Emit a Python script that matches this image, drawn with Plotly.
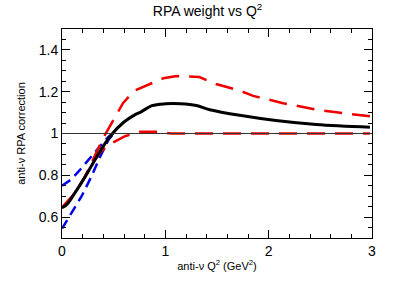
import plotly.graph_objects as go

# Black (central RPA weight)
q2_central = [0.0, 0.05, 0.12, 0.22, 0.30, 0.38, 0.48, 0.60, 0.70, 0.77, 0.87, 1.0, 1.15, 1.30, 1.43, 1.72, 2.07, 2.46, 2.98]
w_central = [0.645, 0.662, 0.712, 0.79, 0.858, 0.924, 0.995, 1.055, 1.088, 1.105, 1.133, 1.142, 1.142, 1.134, 1.114, 1.087, 1.062, 1.043, 1.03]

# Red dashed upper
q2_red_up = [0.0, 0.12, 0.22, 0.30, 0.40, 0.50, 0.59, 0.70, 0.85, 0.98, 1.11, 1.33, 1.49, 1.72, 1.85, 2.14, 2.46, 2.98]
w_red_up = [0.645, 0.712, 0.79, 0.875, 0.98, 1.066, 1.145, 1.205, 1.237, 1.264, 1.275, 1.27, 1.237, 1.205, 1.18, 1.145, 1.114, 1.082]

# Red dashed lower
q2_red_lo = [0.0, 0.12, 0.22, 0.30, 0.38, 0.46, 0.61, 0.75, 0.93, 1.06, 1.5, 2.0, 2.5, 2.98]
w_red_lo = [0.645, 0.712, 0.79, 0.862, 0.915, 0.948, 0.987, 1.008, 1.008, 1.0, 1.0, 1.0, 1.0, 1.0]

# Blue dashed upper / lower
q2_blue = [0.0, 0.09, 0.19, 0.29, 0.37, 0.45, 0.50]
w_blue_up = [0.75, 0.78, 0.835, 0.895, 0.94, 0.985, 1.0]
w_blue_lo = [0.545, 0.62, 0.70, 0.80, 0.89, 0.97, 1.0]

x_ticks = [0, 1, 2, 3]
y_ticks = [0.6, 0.8, 1.0, 1.2, 1.4]
y_tick_text = ["0.6", "0.8", "1", "1.2", "1.4"]

fig = go.Figure()
fig.add_hline(y=1.0, line=dict(color="#333333", width=1))

fig.add_trace(go.Scatter(x=q2_blue, y=w_blue_up, mode="lines", hoverinfo="skip",
                         line=dict(color="#0000ee", width=2.5, dash="10px,6px")))
fig.add_trace(go.Scatter(x=q2_blue, y=w_blue_lo, mode="lines", hoverinfo="skip",
                         line=dict(color="#0000ee", width=2.5, dash="10px,6px")))
fig.add_trace(go.Scatter(x=q2_red_up, y=w_red_up, mode="lines", hoverinfo="skip",
                         line=dict(color="#ee0000", width=2.5, dash="18px,10px")))
fig.add_trace(go.Scatter(x=q2_red_lo, y=w_red_lo, mode="lines", hoverinfo="skip",
                         line=dict(color="#ee0000", width=2.5, dash="18px,10px")))
fig.add_trace(go.Scatter(x=q2_central, y=w_central, mode="lines", hoverinfo="skip",
                         line=dict(color="black", width=3, shape="spline")))

font_family = "Liberation Sans, Arial, sans-serif"
fig.update_layout(
    width=415, height=282,
    margin=dict(l=62, r=43, t=29, b=42),
    paper_bgcolor="white", plot_bgcolor="white",
    showlegend=False,
    font=dict(family=font_family, color="black"),
    title=dict(text="RPA weight vs Q<sup>2</sup>", x=0.5, xref="container", xanchor="center",
               y=0.961, yref="container", yanchor="middle",
               font=dict(size=14, family=font_family, color="black")),
    xaxis=dict(range=[0, 3], tickvals=x_ticks, ticks="inside", ticklen=8, tickcolor="black",
               showline=True, linecolor="black", linewidth=1, mirror="ticks",
               showgrid=False, zeroline=False,
               tickfont=dict(size=14, family=font_family),
               minor=dict(dtick=0.2, ticks="inside", ticklen=4, tickcolor="black", showgrid=False),
               title=dict(text="anti-ν Q<sup>2</sup> (GeV<sup>2</sup>)", font=dict(size=11, family=font_family), standoff=4)),
    yaxis=dict(range=[0.5, 1.5], tickvals=y_ticks, ticktext=y_tick_text, ticks="inside", ticklen=8,
               tickcolor="black",
               showline=True, linecolor="black", linewidth=1, mirror="ticks",
               showgrid=False, zeroline=False,
               tickfont=dict(size=14, family=font_family),
               minor=dict(dtick=0.05, tick0=0.5, ticks="inside", ticklen=4, tickcolor="black", showgrid=False),
               title=dict(text="anti-ν RPA correction", font=dict(size=11, family=font_family), standoff=10)),
)

fig.write_html("out.html", config={"displayModeBar": False},
               post_script="document.body.style.margin='0px';")
